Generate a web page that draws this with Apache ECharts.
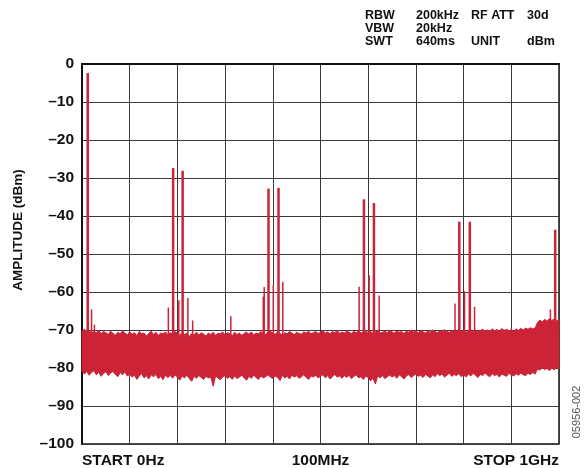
<!DOCTYPE html>
<html>
<head>
<meta charset="utf-8">
<script src="https://cdn.jsdelivr.net/npm/echarts@6/dist/echarts.min.js"></script>
<style>
  html, body { margin: 0; padding: 0; background: #fff; }
  #chart { width: 586px; height: 468px; }
</style>
</head>
<body>
<div id="chart"></div>
<script>
// noise floor envelope, one reading every 5 MHz from 0 to 1000 MHz (dBm)
const noiseStep = 5;
const noiseTop = [
  -70.2, -69.8, -70.6, -70.1, -70.9, -70.3, -70.8, -70.0, -71.0, -70.4,
  -70.7, -71.2, -70.3, -70.9, -71.4, -70.6, -71.0, -70.2, -70.8, -71.3,
  -70.5, -71.1, -70.7, -71.5, -70.4, -71.0, -70.8, -71.6, -70.9, -70.3,
  -71.2, -70.6, -71.4, -70.8, -71.0, -70.5, -71.3, -70.7, -71.1, -70.4,
  -70.9, -71.5, -70.6, -71.2, -70.8, -71.7, -70.9, -71.3, -70.5, -71.4,
  -70.7, -71.1, -71.6, -70.8, -71.2, -70.6, -71.4, -70.9, -71.0, -70.5,
  -71.3, -70.7, -71.0, -71.5, -70.6, -71.2, -70.8, -71.4, -70.9, -70.6,
  -71.1, -70.5, -71.3, -70.8, -71.0, -70.4, -70.9, -71.2, -70.6, -70.3,
  -70.8, -71.1, -70.5, -70.9, -71.3, -70.7, -71.0, -70.4, -70.8, -71.2,
  -70.6, -70.9, -71.1, -70.5, -70.8, -70.3, -71.0, -70.7, -70.4, -70.9,
  -70.6, -70.2, -70.8, -70.5, -71.0, -70.4, -70.7, -70.1, -70.9, -70.5,
  -70.8, -70.3, -70.6, -70.9, -70.4, -70.7, -70.2, -70.8, -70.5, -70.3,
  -70.7, -70.4, -70.9, -70.5, -70.2, -70.8, -70.6, -70.3, -70.7, -70.1,
  -70.5, -70.8, -70.2, -70.6, -70.4, -70.9, -70.3, -70.6, -70.0, -70.5,
  -70.3, -70.7, -70.1, -70.5, -70.8, -70.2, -70.6, -70.0, -70.4, -70.7,
  -70.2, -70.5, -69.9, -70.4, -70.6, -70.1, -70.5, -70.3, -69.8, -70.4,
  -70.1, -70.6, -70.2, -69.9, -70.4, -70.0, -70.5, -70.2, -69.8, -70.3,
  -70.0, -70.4, -69.7, -70.2, -69.9, -70.3, -69.6, -70.1, -69.8, -70.2,
  -69.9, -70.3, -69.7, -70.1, -69.6, -70.0, -69.5, -69.8, -69.4, -69.7,
  -69.5, -68.0, -67.4, -67.9, -67.2, -67.7, -67.0, -67.5, -67.1, -67.6,
  -67.3
];
const noiseBottom = [
  -80.8, -81.6, -80.9, -81.9, -81.2, -80.7, -81.8, -81.1, -82.2, -81.4,
  -81.0, -82.0, -81.3, -80.9, -81.7, -82.3, -81.2, -81.8, -81.0, -82.1,
  -81.6, -82.4, -81.9, -83.0, -82.1, -81.5, -82.6, -82.0, -82.9, -81.8,
  -82.3, -81.7, -82.8, -82.2, -83.1, -81.9, -82.5, -82.0, -82.7, -81.8,
  -82.4, -83.2, -82.1, -82.6, -81.9, -82.8, -83.5, -82.2, -82.7, -82.0,
  -82.5, -83.0, -82.2, -82.6, -82.4, -84.8, -82.1, -82.6, -83.1, -82.3,
  -82.0, -82.7, -82.3, -83.0, -82.1, -82.8, -82.4, -81.9, -82.6, -83.2,
  -82.2, -82.7, -81.9, -82.5, -83.0, -82.1, -82.6, -82.3, -81.8, -82.4,
  -82.8, -82.1, -82.5, -83.3, -82.0, -82.6, -82.2, -82.9, -81.9, -82.4,
  -82.0, -82.7, -82.3, -81.8, -82.5, -83.0, -82.1, -82.4, -81.9, -82.6,
  -82.2, -81.8, -82.6, -82.0, -82.9, -82.3, -81.7, -82.4, -82.1, -82.7,
  -82.0, -82.5, -81.9, -82.8, -82.2, -81.8, -82.6, -82.3, -83.0, -82.1,
  -82.5, -83.4, -82.7, -84.2, -82.1, -82.6, -82.0, -82.8, -82.3, -81.9,
  -82.4, -82.0, -82.7, -81.8, -82.3, -82.9, -82.1, -81.7, -82.5, -82.0,
  -81.6, -82.2, -81.9, -82.5, -81.7, -82.1, -82.6, -81.8, -82.3, -81.5,
  -82.0, -81.6, -82.4, -81.9, -81.4, -82.2, -81.7, -82.0, -81.5, -82.3,
  -81.8, -82.4, -81.6, -82.1, -81.4, -81.9, -82.5, -81.7, -82.0, -81.3,
  -81.9, -82.3, -81.5, -82.0, -81.7, -82.4, -81.6, -81.9, -82.2, -81.4,
  -81.8, -82.1, -81.5, -81.9, -81.3, -81.8, -82.0, -81.4, -81.7, -81.2,
  -81.6, -80.2, -80.6, -79.9, -80.4, -80.1, -80.7, -80.0, -80.5, -79.8,
  -80.3
];

// fundamental and the tones around it (MHz, dBm)
const toneFreq = [12, 191, 211, 391, 412, 591, 612, 791, 813, 992];
const toneLevel = [-2.4, -27.4, -28.1, -32.8, -32.6, -35.6, -36.6, -41.5, -41.5, -43.6];

// small spurs above the floor (MHz, dBm)
const spurFreq = [20, 26, 181, 203, 222, 232, 312, 380, 382, 401, 421, 581, 602, 623, 782, 802, 823, 982];
const spurLevel = [-64.6, -68.6, -64.1, -62.2, -61.6, -67.5, -66.4, -61.2, -58.7, -58.2, -57.3, -58.6, -55.6, -60.9, -63.0, -59.8, -63.9, -64.6];

const spikeFoot = -72;

const xLabelValues = [0, 500, 1000];
const xLabelTexts = ['START 0Hz', '100MHz', 'STOP 1GHz'];

const headerRows = [
  ['RBW', '200kHz', 'RF ATT', '30d'],
  ['VBW', '20kHz', '', ''],
  ['SWT', '640ms', 'UNIT', 'dBm']
];
const headerCols = [365, 416, 471, 527];

const red = '#cc2337';
const font = '"Liberation Sans", Arial, Helvetica, sans-serif';

let freqs = noiseTop.map((v, i) => i * noiseStep);

// the whole floor as one shape: along the top, then back along the bottom
function floorShape(params, api) {
  if (params.dataIndex !== 0) return;
  let pts = [];
  for (let i = 0; i < freqs.length; i++) pts.push(api.coord([freqs[i], noiseTop[i]]));
  for (let i = freqs.length - 1; i >= 0; i--) pts.push(api.coord([freqs[i], noiseBottom[i]]));
  return {
    type: 'polygon',
    shape: {points: pts},
    style: {fill: red, stroke: red, lineWidth: 1}
  };
}

function spikeItem(width) {
  return (params, api) => {
    let top = api.coord([api.value(0), api.value(1)]);
    let foot = api.coord([api.value(0), spikeFoot]);
    return {
      type: 'line',
      shape: {x1: top[0], y1: top[1], x2: foot[0], y2: foot[1]},
      style: {stroke: red, lineWidth: width}
    };
  };
}

let header = [];
headerRows.forEach((row, r) => {
  row.forEach((txt, c) => {
    if (!txt) return;
    header.push({
      type: 'text',
      left: headerCols[c],
      top: 9 + r * 13,
      style: {text: txt, font: 'bold 12.5px ' + font, fill: '#111'}
    });
  });
});

let chart = echarts.init(document.getElementById('chart'));
chart.setOption({
  animation: false,
  backgroundColor: '#fff',
  grid: {
    left: 82, right: 27, top: 64, bottom: 24,
    containLabel: false,
    outerBoundsMode: 'none',
    show: true,
    borderColor: '#111',
    borderWidth: 1.5
  },
  xAxis: {
    type: 'value',
    min: 0,
    max: 1000,
    interval: 100,
    axisLine: {show: true, lineStyle: {color: '#111', width: 2}},
    axisTick: {show: false},
    splitLine: {show: true, lineStyle: {color: '#3a3a3a', width: 1}},
    axisLabel: {
      margin: 9,
      fontSize: 15.5,
      fontWeight: 'bold',
      fontFamily: font,
      color: '#111',
      showMinLabel: true,
      showMaxLabel: true,
      alignMinLabel: 'left',
      alignMaxLabel: 'right',
      formatter: v => {
        let i = xLabelValues.indexOf(v);
        return i >= 0 ? xLabelTexts[i] : '';
      }
    }
  },
  yAxis: {
    type: 'value',
    min: -100,
    max: 0,
    interval: 10,
    axisLine: {show: true, lineStyle: {color: '#111', width: 2}},
    axisTick: {show: false},
    splitLine: {show: true, lineStyle: {color: '#3a3a3a', width: 1}},
    axisLabel: {
      margin: 8,
      fontSize: 15.5,
      fontWeight: 'bold',
      fontFamily: font,
      color: '#111',
      formatter: v => v === 0 ? '0' : '\u2013' + Math.abs(v)
    }
  },
  graphic: header.concat([
    {
      type: 'text',
      x: 18,
      y: 230,
      rotation: Math.PI / 2,
      style: {
        text: 'AMPLITUDE (dBm)',
        font: 'bold 13.5px ' + font,
        fill: '#111',
        align: 'center',
        verticalAlign: 'middle'
      }
    },
    {
      type: 'text',
      x: 577,
      y: 412,
      rotation: Math.PI / 2,
      style: {
        text: '05956-002',
        font: '11px ' + font,
        fill: '#555',
        align: 'center',
        verticalAlign: 'middle'
      }
    }
  ]),
  series: [
    {
      name: 'floor',
      type: 'custom',
      data: freqs.map((f, i) => [f, noiseTop[i], noiseBottom[i]]),
      encode: {x: 0, y: [1, 2]},
      renderItem: floorShape,
      silent: true
    },
    {
      name: 'spurs',
      type: 'custom',
      data: spurFreq.map((f, i) => [f, spurLevel[i]]),
      encode: {x: 0, y: 1},
      renderItem: spikeItem(1.5),
      silent: true
    },
    {
      name: 'tones',
      type: 'custom',
      data: toneFreq.map((f, i) => [f, toneLevel[i]]),
      encode: {x: 0, y: 1},
      renderItem: spikeItem(2.5),
      silent: true
    }
  ]
});
</script>
</body>
</html>
